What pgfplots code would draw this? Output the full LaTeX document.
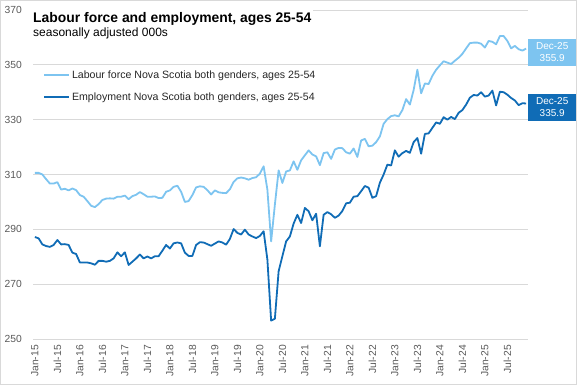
\documentclass[border=0pt]{standalone}
\usepackage{fontspec}
\setmainfont{Liberation Sans}
\usepackage{pgfplots}
\usepackage{pgfplotstable}
\pgfplotsset{compat=1.18}
\definecolor{lfblue}{RGB}{125,196,240}
\definecolor{emblue}{RGB}{16,108,182}
\definecolor{gridgray}{RGB}{217,217,217}
\definecolor{labgray}{RGB}{89,89,89}

\pgfplotstableread{
i lf em
0 310.6 287.2
1 310.6 286.7
2 310.0 284.5
3 308.3 283.9
4 306.7 283.6
5 306.7 284.3
6 307.2 286.1
7 304.5 284.5
8 304.8 284.6
9 304.2 284.3
10 304.9 281.5
11 304.3 281.0
12 302.5 277.9
13 301.9 277.9
14 300.3 277.9
15 298.6 277.6
16 298.1 277.1
17 299.2 278.5
18 300.7 278.5
19 301.2 278.2
20 301.3 278.5
21 301.2 279.4
22 301.9 281.6
23 301.9 280.2
24 302.3 281.6
25 301.0 277.0
26 302.1 278.2
27 302.6 279.4
28 303.6 280.8
29 302.8 279.4
30 301.9 280.1
31 301.9 279.4
32 302.0 280.2
33 301.4 280.2
34 301.5 282.2
35 303.7 284.3
36 304.2 283.0
37 305.5 284.9
38 305.9 285.2
39 303.7 284.9
40 300.0 281.5
41 300.3 280.3
42 302.5 280.3
43 305.3 284.3
44 305.7 285.3
45 305.5 285.2
46 304.3 284.6
47 302.7 284.0
48 304.2 284.8
49 303.5 285.6
50 303.3 285.2
51 303.2 284.4
52 304.6 286.5
53 307.3 290.1
54 308.6 288.7
55 308.9 288.1
56 308.6 289.9
57 308.1 288.1
58 308.7 287.4
59 309.0 286.8
60 310.3 287.6
61 313.0 289.3
62 304.5 279.0
63 285.6 256.7
64 299.0 257.4
65 311.5 274.7
66 306.9 280.2
67 311.1 285.6
68 311.5 287.4
69 314.8 292.1
70 311.7 295.3
71 315.2 292.3
72 317.0 297.8
73 318.8 296.6
74 317.3 293.3
75 316.6 295.7
76 313.4 283.8
77 317.8 295.3
78 318.1 296.3
79 315.7 295.5
80 319.1 294.2
81 319.7 295.0
82 319.6 296.7
83 318.1 299.5
84 317.6 299.7
85 319.5 301.9
86 316.4 302.1
87 322.4 303.9
88 323.0 305.8
89 320.3 305.2
90 320.5 301.5
91 321.8 302.1
92 323.9 307.0
93 328.5 310.0
94 330.2 313.6
95 331.3 313.3
96 331.6 318.8
97 331.2 316.5
98 333.5 317.8
99 337.5 318.6
100 335.5 317.9
101 340.8 321.8
102 348.2 323.3
103 339.6 317.6
104 343.2 324.8
105 343.0 325.0
106 346.0 327.0
107 348.2 329.0
108 349.8 328.5
109 351.3 330.9
110 350.8 330.0
111 350.3 331.0
112 351.5 330.2
113 352.6 332.5
114 354.0 333.5
115 356.0 335.5
116 357.9 338.0
117 358.1 339.0
118 358.1 338.8
119 357.7 340.0
120 356.3 338.4
121 358.7 338.8
122 358.4 340.6
123 357.5 335.2
124 360.5 340.2
125 360.5 340.0
126 358.7 339.1
127 356.0 337.9
128 356.9 337.0
129 355.7 335.3
130 355.2 336.0
131 355.9 335.9
}\datatable

\begin{document}
\begin{tikzpicture}
\useasboundingbox (-33pt,-46pt) rectangle (544pt,339pt);
\draw[gridgray, line width=0.8pt] (-32.6pt,-45.6pt) rectangle (543.6pt,338.6pt);
\begin{axis}[
  at={(0pt,0pt)}, anchor=south west,
  scale only axis, width=495pt, height=329pt,
  xmin=-0.5, xmax=131.5, ymin=250, ymax=370,
  ytick={250,270,...,370},
  xtick={0,6,...,126},
  xticklabels={Jan-15,Jul-15,Jan-16,Jul-16,Jan-17,Jul-17,Jan-18,Jul-18,Jan-19,Jul-19,Jan-20,Jul-20,Jan-21,Jul-21,Jan-22,Jul-22,Jan-23,Jul-23,Jan-24,Jul-24,Jan-25,Jul-25},
  x tick label style={rotate=90, anchor=east, inner sep=0pt, font=\fontsize{10.3}{12}\selectfont, text=labgray},
  y tick label style={anchor=east, inner sep=0pt, font=\fontsize{10.3}{12}\selectfont, text=labgray},
  xticklabel shift=6pt,
  yticklabel shift=11pt,
  ymajorgrids, major grid style={gridgray, line width=0.8pt},
  axis line style={draw=none},
  major tick length=0pt,
  clip=false,
  /pgf/number format/assume math mode=true,
  legend style={at={(axis description cs:0.0202,0.767)}, anchor=west, draw=none, fill=none,
    inner sep=0pt, row sep=12pt, column sep=2pt,
    nodes={inner sep=0pt, text height=7.5pt, text depth=2.5pt, anchor=base west},
    font=\fontsize{10.6}{12}\selectfont, text=black!85},
  legend cell align=left,
  legend image code/.code={\draw[#1] (0pt,3.3pt) -- (25pt,3.3pt);},
]
\addplot[lfblue, line width=1.8pt, line join=round] table[x=i, y=lf] {\datatable};
\addlegendentry{Labour force Nova Scotia both genders, ages 25-54}
\addplot[emblue, line width=1.8pt, line join=round] table[x=i, y=em] {\datatable};
\addlegendentry{Employment Nova Scotia both genders, ages 25-54}
\node[fill=lfblue, text=white, anchor=west, minimum width=48pt, minimum height=27pt, align=center, inner sep=0pt, font=\fontsize{10}{12}\selectfont] at (axis cs:131.5,354.5) {Dec-25\\355.9};
\node[fill=emblue, text=white, anchor=west, minimum width=48pt, minimum height=27pt, align=center, inner sep=0pt, font=\fontsize{10}{12}\selectfont] at (axis cs:131.5,334.5) {Dec-25\\335.9};
\end{axis}
\fill[white] (-1pt,320pt) rectangle (280pt,334pt);
\node[anchor=base west, inner sep=0pt, font=\fontsize{13.9}{16}\selectfont\bfseries] at (0pt,316.3pt) {Labour force and employment, ages 25-54};
\node[anchor=base west, inner sep=0pt, font=\fontsize{12}{14}\selectfont] at (0pt,302.5pt) {seasonally adjusted 000s};
\end{tikzpicture}
\end{document}
